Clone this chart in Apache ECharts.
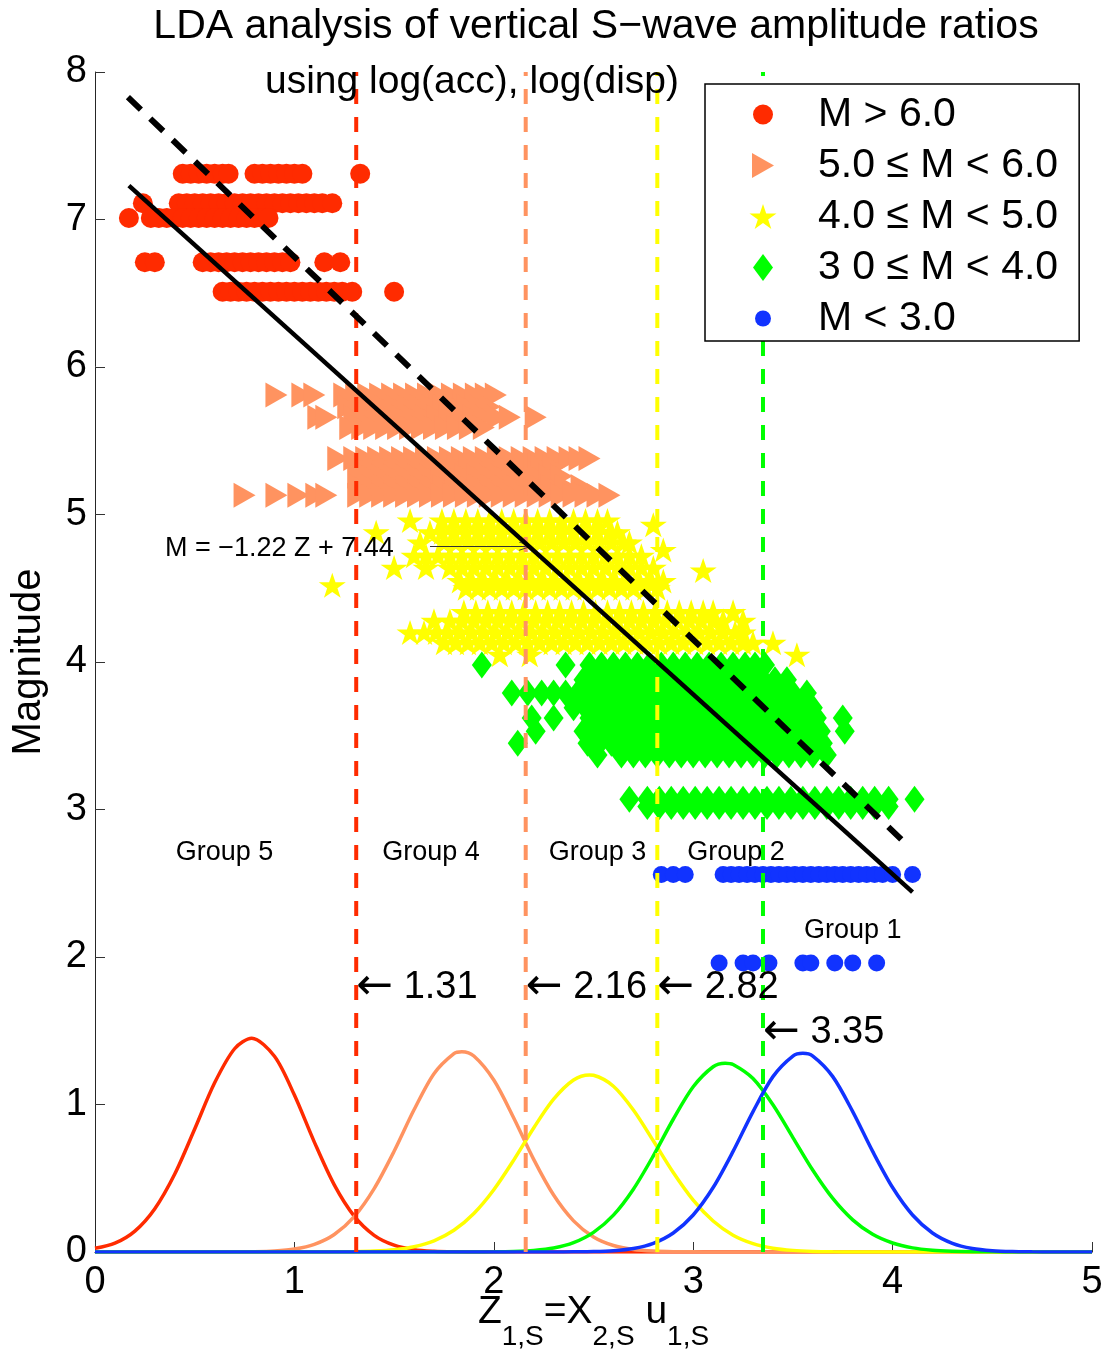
<!DOCTYPE html>
<html><head><meta charset="utf-8">
<script src="https://cdn.jsdelivr.net/npm/echarts/dist/echarts.min.js"></script>
<style>html,body{margin:0;padding:0;background:#fff}#c{width:1110px;height:1357px}</style>
</head><body><div id="c"></div>
<script>
// ---------- DATA ----------
// Scatter rows: [magnitude, [Z values read along that row]]
const redRows = [
  [7.31, [0.44,0.48,0.52,0.56,0.60,0.64,0.67,0.80,0.84,0.88,0.92,0.96,1.00,1.04,1.33]],
  [7.11, [0.24,0.42,0.46,0.50,0.54,0.58,0.62,0.66,0.70,0.74,0.78,0.82,0.86,0.90,0.94,0.98,1.02,1.06,1.10,1.14,1.19]],
  [7.01, [0.17,0.28,0.32,0.36,0.40,0.44,0.48,0.52,0.56,0.60,0.64,0.68,0.72,0.76,0.80,0.84,0.87]],
  [6.71, [0.25,0.30,0.54,0.58,0.62,0.66,0.70,0.74,0.78,0.82,0.86,0.90,0.94,0.98,1.15,1.23]],
  [6.51, [0.64,0.68,0.72,0.76,0.80,0.84,0.88,0.92,0.96,1.00,1.04,1.08,1.12,1.16,1.20,1.24,1.29,1.50]]
];
const salmonRows = [
  [5.81, [0.91,1.04,1.10,1.25,1.31,1.37,1.43,1.49,1.55,1.61,1.67,1.73,1.79,1.85,1.91,1.96,2.01]],
  [5.73, [1.27,1.33,1.39,1.45,1.51,1.57,1.63,1.69,1.75,1.81,1.87,1.93,1.98]],
  [5.66, [1.12,1.16,1.30,1.36,1.42,1.48,1.54,1.60,1.66,1.72,1.78,1.84,1.90,1.96,2.02,2.08,2.21]],
  [5.59, [1.28,1.34,1.40,1.46,1.52,1.58,1.64,1.70,1.76,1.82,1.88,1.95]],
  [5.38, [1.22,1.30,1.36,1.42,1.48,1.54,1.60,1.66,1.72,1.78,1.84,1.90,1.96,2.02,2.08,2.14,2.20,2.26,2.32,2.38,2.43,2.48]],
  [5.32, [1.34,1.40,1.46,1.52,1.58,1.64,1.70,1.76,1.82,1.88,1.94,2.00,2.06,2.12,2.18,2.24,2.30]],
  [5.26, [1.32,1.38,1.44,1.50,1.56,1.62,1.68,1.74,1.80,1.86,1.92,1.98,2.04,2.10,2.16,2.22,2.28,2.34]],
  [5.19, [1.33,1.39,1.45,1.51,1.57,1.63,1.69,1.75,1.81,1.87,1.93,1.99,2.05,2.11,2.17,2.23,2.29,2.36,2.44]],
  [5.13, [0.75,0.91,1.02,1.11,1.16,1.32,1.38,1.44,1.50,1.56,1.62,1.68,1.74,1.80,1.86,1.92,1.98,2.04,2.10,2.16,2.22,2.28,2.34,2.40,2.46,2.52,2.58]]
];
const yellowRows = [
  [4.96, [1.58,1.74,1.80,1.86,1.92,1.98,2.04,2.10,2.16,2.22,2.28,2.34,2.40,2.46,2.52,2.57]],
  [4.93, [2.80]],
  [4.88, [1.41,1.68,1.74,1.80,1.86,1.92,1.98,2.04,2.10,2.16,2.22,2.28,2.34,2.40,2.46,2.52,2.58,2.62]],
  [4.81, [1.63,1.75,1.81,1.87,1.93,1.99,2.05,2.11,2.17,2.23,2.29,2.35,2.41,2.47,2.53,2.59,2.65,2.68]],
  [4.76, [2.85]],
  [4.72, [1.60,1.66,1.72,1.78,1.84,1.90,1.96,2.02,2.08,2.14,2.20,2.26,2.32,2.38,2.44,2.50,2.56,2.62,2.68,2.74]],
  [4.64, [1.50,1.66,1.78,1.84,1.90,1.96,2.02,2.08,2.14,2.20,2.26,2.32,2.38,2.44,2.50,2.56,2.62,2.68,2.74,2.80]],
  [4.62, [3.05]],
  [4.55, [1.83,1.89,1.95,2.01,2.07,2.13,2.19,2.25,2.31,2.37,2.43,2.49,2.55,2.61,2.67,2.73,2.79,2.85]],
  [4.52, [1.19]],
  [4.50, [1.86,1.92,1.98,2.04,2.10,2.16,2.22,2.28,2.34,2.40,2.46,2.52,2.58,2.64,2.70,2.76,2.82]],
  [4.34, [1.85,1.91,1.97,2.03,2.09,2.15,2.21,2.27,2.33,2.39,2.45,2.51,2.57,2.63,2.69,2.75,2.81,2.87,2.93,2.99,3.05,3.10,3.20]],
  [4.28, [1.70,1.78,1.84,1.90,1.96,2.02,2.08,2.14,2.20,2.26,2.32,2.38,2.44,2.50,2.56,2.62,2.68,2.74,2.80,2.86,2.92,2.98,3.04,3.10,3.15,3.25]],
  [4.20, [1.58,1.65,1.71,1.77,1.83,1.89,1.95,2.01,2.07,2.13,2.19,2.25,2.31,2.37,2.43,2.49,2.55,2.61,2.67,2.73,2.79,2.85,2.91,2.97,3.03,3.09,3.15,3.21,3.25]],
  [4.13, [1.75,1.81,1.87,1.93,1.99,2.05,2.11,2.17,2.23,2.29,2.35,2.41,2.47,2.53,2.59,2.65,2.71,2.77,2.83,2.89,2.95,3.01,3.07,3.13,3.19,3.25,3.30,3.40]],
  [4.05, [2.03,2.18,3.52]]
];
const greenRows = [
  [3.98, [1.94,2.36,2.48,2.54,2.60,2.66,2.72,2.78,2.84,2.90,2.96,3.02,3.08,3.14,3.20,3.26,3.31,3.36]],
  [3.88, [2.45,2.51,2.57,2.63,2.69,2.75,2.81,2.87,2.93,2.99,3.05,3.11,3.17,3.23,3.29,3.35,3.41,3.47]],
  [3.79, [2.09,2.17,2.24,2.30,2.36,2.42,2.48,2.54,2.60,2.66,2.72,2.78,2.84,2.90,2.96,3.02,3.08,3.14,3.20,3.26,3.32,3.38,3.44,3.50,3.57]],
  [3.69, [2.40,2.46,2.52,2.58,2.64,2.70,2.76,2.82,2.88,2.94,3.00,3.06,3.12,3.18,3.24,3.30,3.36,3.42,3.48,3.54,3.60]],
  [3.62, [2.19,2.30,2.48,2.54,2.60,2.66,2.72,2.78,2.84,2.90,2.96,3.02,3.08,3.14,3.20,3.26,3.32,3.38,3.44,3.50,3.56,3.62,3.75]],
  [3.53, [2.21,2.45,2.51,2.57,2.63,2.69,2.75,2.81,2.87,2.93,2.99,3.05,3.11,3.17,3.23,3.29,3.35,3.41,3.47,3.53,3.59,3.64,3.76]],
  [3.45, [2.12,2.47,2.53,2.59,2.65,2.71,2.77,2.83,2.89,2.95,3.01,3.07,3.13,3.19,3.25,3.31,3.37,3.43,3.49,3.55,3.61,3.65]],
  [3.37, [2.52,2.64,2.70,2.76,2.82,2.88,2.94,3.00,3.06,3.12,3.18,3.24,3.30,3.36,3.42,3.48,3.54,3.60,3.67]],
  [3.07, [2.68,2.77,2.83,2.89,2.95,3.01,3.07,3.13,3.19,3.25,3.31,3.37,3.43,3.49,3.55,3.61,3.67,3.73,3.79,3.85,3.91,3.98,4.11]],
  [3.02, [2.77,2.83,2.89,2.95,3.01,3.07,3.13,3.19,3.25,3.31,3.37,3.43,3.49,3.55,3.61,3.67,3.73,3.79,3.85,3.91,3.98]]
];
const blueRows = [
  [2.56, [2.84,2.90,2.96,3.15,3.19,3.23,3.27,3.31,3.35,3.39,3.43,3.47,3.51,3.55,3.59,3.63,3.67,3.71,3.75,3.79,3.83,3.87,3.91,3.95,4.00,4.10]],
  [1.96, [3.13,3.25,3.30,3.38,3.55,3.59,3.71,3.80,3.92]]
];

// Class density curves read at Z = 0, 0.1, ..., 5.0
const curveZ = [0,0.1,0.2,0.3,0.4,0.5,0.6,0.7,0.8,0.9,1,1.1,1.2,1.3,1.4,1.5,1.6,1.7,1.8,1.9,2,2.1,2.2,2.3,2.4,2.5,2.6,2.7,2.8,2.9,3,3.1,3.2,3.3,3.4,3.5,3.6,3.7,3.8,3.9,4,4.1,4.2,4.3,4.4,4.5,4.6,4.7,4.8,4.9,5];
const curveRed = [0.025,0.060,0.142,0.294,0.529,0.834,1.147,1.378,1.448,1.327,1.064,0.745,0.455,0.243,0.113,0.046,0.016,0.005,0.001,
  0,0,0,0,0,0,0,0, 0,0,0,0,0,0,0,0, 0,0,0,0,0,0,0,0, 0,0,0,0,0,0,0,0];
const curveSalmon = [0,0,0,0,0,0,0,
  0.001,0.002,0.007,0.020,0.052,0.119,0.240,0.430,0.683,0.964,1.209,1.345,1.329,1.166,0.909,0.628,0.386,0.211,0.102,0.044,0.017,0.006,0.002,0.001,
  0,0,0,0,0,0,0,0,0,0, 0,0,0,0,0,0,0,0,0,0];
const curveYellow = [0,0,0,0,0,0,0,0,0,0,0,0,
  0.001,0.002,0.006,0.015,0.036,0.076,0.147,0.261,0.422,0.623,0.841,1.036,1.166,1.198,1.124,0.963,0.754,0.539,0.352,0.210,0.114,0.057,0.026,0.011,0.004,0.001,
  0,0,0,0,0,0,0,0,0,0,0,0,0];
const curveGreen = [0,0,0,0,0,0,0,0,0,0, 0,0,0,0,0,0,0,0,0,0,
  0.001,0.004,0.011,0.027,0.063,0.133,0.250,0.426,0.652,0.900,1.120,1.256,1.271,1.176,0.998,0.776,0.554,0.363,0.218,0.120,0.061,0.028,0.012,0.005,0.002,0.001,
  0,0,0,0,0];
const curveBlue = [0,0,0,0,0,0,0,0,0,0,0,0, 0,0,0,0,0,0,0,0,0,0,0,0,
  0.001,0.003,0.009,0.024,0.059,0.129,0.251,0.437,0.682,0.952,1.189,1.328,1.328,1.189,0.952,0.682,0.437,0.251,0.129,0.059,0.024,0.009,0.003,0.001,
  0,0,0];
// Peak of each curve (red, salmon, yellow, green, blue)
const curvePeakZ = [0.786, 1.84, 2.48, 3.16, 3.55];
const curvePeakY = [1.449, 1.358, 1.200, 1.280, 1.347];

// Regression lines (end points)
const solidFitZ = [0.17, 4.10];
const solidFitM = [7.23, 2.44];
const dashFitZ = [0.165, 4.08];
const dashFitM = [7.83, 2.75];

// Group boundaries
const boundaryZ = [1.31, 2.16, 2.82, 3.35];

// Tick labels
const xTicks = [0, 1, 2, 3, 4, 5];
const yTicks = [0, 1, 2, 3, 4, 5, 6, 7, 8];

// Legend / class names
const classNames = ['M > 6.0', '5.0 \u2264 M < 6.0', '4.0 \u2264 M < 5.0', '3 0 \u2264 M < 4.0', 'M < 3.0'];

// ---------- BUILD ----------
const FONT = '"Liberation Sans", Arial, Helvetica, sans-serif';
const C_RED = '#FF2B00', C_SAL = '#FF9360', C_YEL = '#FFFF00', C_GRN = '#00FF00', C_BLU = '#1133FF';
const boundaryColors = [C_RED, C_SAL, C_YEL, C_GRN];

function toPoints(rows) {
  const pts = [];
  rows.forEach(function (r) { r[1].forEach(function (z) { pts.push([z, r[0]]); }); });
  return pts;
}
function pair(xs, ys) { return xs.map(function (x, i) { return [x, ys[i]]; }); }
function withPeak(xs, ys, pz, py) {
  const pts = pair(xs, ys).filter(function (p) { return Math.abs(p[0] - pz) > 0.02; });
  pts.push([pz, py]);
  pts.sort(function (a, b) { return a[0] - b[0]; });
  return pts;
}

const triPath = 'path://M0,0L22,12.5L0,25Z';
const starPath = 'path://M50,0L61.23,34.55L97.55,34.55L68.17,55.9L79.39,90.45L50,69.1L20.61,90.45L31.83,55.9L2.45,34.55L38.77,34.55Z';

const legendIcons = [
  'path://M0,0M28,28M24,14A10,10,0,1,1,4,14A10,10,0,1,1,24,14Z',
  'path://M0,0M28,28M3,1.5L25,14L3,26.5Z',
  'path://M0,0M28,28M14,1.5L17.19,11.05L27.5,11.05L19.16,16.95L22.34,26.5L14,20.6L5.66,26.5L8.84,16.95L0.5,11.05L10.81,11.05Z',
  'path://M0,0M28,28M14,0.5L24,14L14,27.5L4,14Z',
  'path://M0,0M28,28M22,14A8,8,0,1,1,6,14A8,8,0,1,1,22,14Z'
];

const series = [];
// density curves
[[curveRed, C_RED], [curveSalmon, C_SAL], [curveYellow, C_YEL], [curveGreen, C_GRN], [curveBlue, C_BLU]].forEach(function (c, i) {
  series.push({
    type: 'line', name: 'curve' + i, data: withPeak(curveZ, c[0], curvePeakZ[i], curvePeakY[i]), smooth: 0.3,
    showSymbol: false, symbol: 'none', silent: true, z: 2,
    lineStyle: { color: c[1], width: 3.5 }
  });
});
// scatter classes
const scatDefs = [
  [redRows, 'circle', 20, C_RED],
  [salmonRows, triPath, [22, 25], C_SAL],
  [yellowRows, starPath, [27, 25], C_YEL],
  [greenRows, 'diamond', [20, 27], C_GRN],
  [blueRows, 'circle', 17, C_BLU]
];
scatDefs.forEach(function (d, i) {
  series.push({
    type: 'scatter', name: classNames[i], data: toPoints(d[0]), symbol: d[1], symbolSize: d[2],
    silent: true, z: 3, itemStyle: { color: d[3], opacity: 1, borderWidth: 0 }
  });
});
// boundary lines
boundaryZ.forEach(function (b, i) {
  series.push({
    type: 'line', name: 'bound' + i, data: [[b, 0], [b, 8]], showSymbol: false, symbol: 'none', silent: true, z: 4,
    lineStyle: { color: boundaryColors[i], width: 4, type: [15, 13] }
  });
});
// regression lines
series.push({
  type: 'line', name: 'dashFit', data: pair(dashFitZ, dashFitM), showSymbol: false, symbol: 'none', silent: true, z: 5,
  lineStyle: { color: '#000', width: 6, type: [18, 13] }
});
series.push({
  type: 'line', name: 'solidFit', data: pair(solidFitZ, solidFitM), showSymbol: false, symbol: 'none', silent: true, z: 5,
  lineStyle: { color: '#000', width: 4.5 }
});
// annotations
const arrowRich = { a: { fontSize: 44, fontFamily: '"DejaVu Sans", sans-serif', color: '#000' }, t: { fontSize: 38, fontFamily: FONT, color: '#000' } };
series.push({
  type: 'scatter', name: 'annot', symbolSize: 1, silent: true, z: 6,
  itemStyle: { color: 'rgba(0,0,0,0)', opacity: 1 },
  label: { show: true, position: 'inside', align: 'left', verticalAlign: 'middle', fontSize: 38, color: '#000', opacity: 1, fontFamily: FONT, rich: arrowRich },
  data: [
    { value: [1.31, 1.79], label: { formatter: '{a|\u2190} {t|1.31}' } },
    { value: [2.16, 1.79], label: { formatter: '{a|\u2190} {t|2.16}' } },
    { value: [2.82, 1.79], label: { formatter: '{a|\u2190} {t|2.82}' } },
    { value: [3.35, 1.485], label: { formatter: '{a|\u2190} {t|3.35}' } },
    { value: [0.65, 2.71], label: { formatter: 'Group 5', fontSize: 27, align: 'center' } },
    { value: [1.685, 2.71], label: { formatter: 'Group 4', fontSize: 27, align: 'center' } },
    { value: [2.52, 2.71], label: { formatter: 'Group 3', fontSize: 27, align: 'center' } },
    { value: [3.215, 2.71], label: { formatter: 'Group 2', fontSize: 27, align: 'center' } },
    { value: [3.80, 2.18], label: { formatter: 'Group 1', fontSize: 27, align: 'center' } },
    { value: [0.351, 4.77], label: { formatter: 'M = \u22121.22 Z + 7.44', fontSize: 27 } }
  ],
  markLine: {
    silent: true, symbol: ['none', 'path://M5,0L10,12L9,12L5,2L1,12L0,12Z'], symbolSize: [9, 13],
    label: { show: false },
    lineStyle: { color: '#333', width: 1, type: 'solid' },
    data: [[{ coord: [1.68, 4.785] }, { coord: [2.16, 4.785] }]]
  }
});

const option = {
  animation: false,
  backgroundColor: '#fff',
  textStyle: { fontFamily: FONT, color: '#000' },
  grid: { left: 95, right: 18, top: 72, bottom: 105, containLabel: false, outerBoundsMode: 'none' },
  xAxis: {
    type: 'value', min: xTicks[0], max: xTicks[xTicks.length - 1], interval: 1,
    axisLine: { show: true, onZero: false, lineStyle: { color: '#000', width: 1 } },
    axisTick: { show: true, inside: true, length: 10, lineStyle: { color: '#333' } },
    axisLabel: { fontSize: 38, color: '#000', margin: 12, fontFamily: FONT },
    splitLine: { show: false },
    name: '{m|Z}{s|1,S}{m|=X}{s|2,S}{m| u}{s|1,S}',
    nameLocation: 'middle', nameGap: 21, nameMoveOverlap: false,
    nameTextStyle: {
      color: '#000', fontFamily: FONT,
      rich: {
        m: { fontSize: 39, fontFamily: FONT, color: '#000' },
        s: { fontSize: 28, fontFamily: FONT, color: '#000', padding: [50, 0, 0, 0] }
      }
    }
  },
  yAxis: {
    type: 'value', min: yTicks[0], max: yTicks[yTicks.length - 1], interval: 1,
    axisLine: { show: true, lineStyle: { color: '#262626', width: 1 } },
    axisTick: { show: true, inside: true, length: 10, lineStyle: { color: '#333' } },
    axisLabel: { fontSize: 38, color: '#000', margin: 8, fontFamily: FONT },
    splitLine: { show: false },
    name: 'Magnitude', nameLocation: 'middle', nameGap: 46, nameMoveOverlap: false,
    nameTextStyle: { fontSize: 40, color: '#000', fontFamily: FONT }
  },
  legend: {
    show: true, orient: 'vertical', left: 705, top: 84, z: 10,
    selectedMode: false,
    backgroundColor: '#fff', borderColor: '#000', borderWidth: 1.5,
    padding: [10, 21, 2, 44], itemGap: 10, itemWidth: 28, itemHeight: 28,
    textStyle: { fontSize: 41, color: '#000', fontFamily: FONT, lineHeight: 40, padding: [0, 0, 0, 36] },
    data: classNames.map(function (n, i) { return { name: n, icon: legendIcons[i] }; })
  },
  graphic: [
    { type: 'text', x: 596, y: 27, z: 20, style: { text: 'LDA analysis of vertical S\u2212wave amplitude ratios', fontSize: 41, fontFamily: FONT, fill: '#000', align: 'center', verticalAlign: 'middle' } },
    { type: 'text', x: 472, y: 82, z: 20, style: { text: 'using log(acc), log(disp)', fontSize: 39, fontFamily: FONT, fill: '#000', align: 'center', verticalAlign: 'middle' } }
  ],
  series: series
};

const chart = echarts.init(document.getElementById('c'), null, { renderer: 'canvas', width: 1110, height: 1357 });
chart.setOption(option);
</script></body></html>
